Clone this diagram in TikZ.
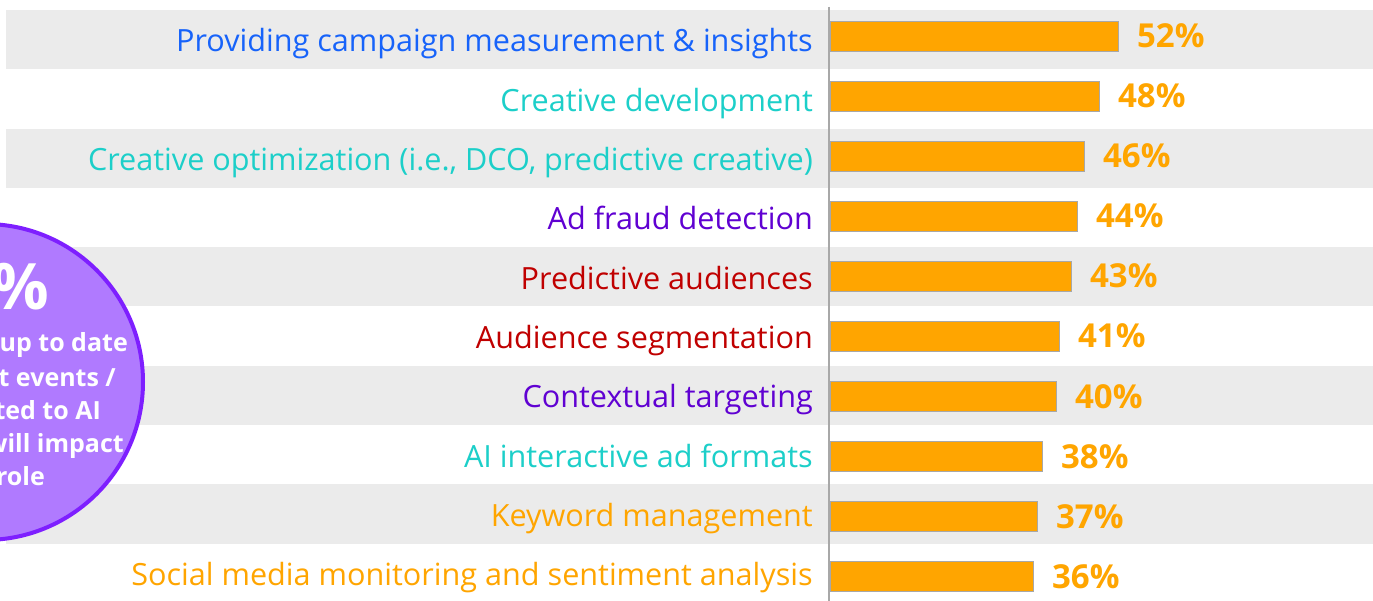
\documentclass[tikz,border=0pt]{standalone}
\usepackage{fontspec}
\setmainfont{Open Sans}
\definecolor{cblue}{HTML}{1763FA}
\definecolor{cteal}{HTML}{1CCFC9}
\definecolor{cpurple}{HTML}{6001D2}
\definecolor{cred}{HTML}{C00000}
\definecolor{corange}{HTML}{FFA500}
\definecolor{band}{HTML}{EBEBEB}
\definecolor{axisgray}{HTML}{A8A8A8}
\definecolor{circfill}{HTML}{B07AFF}
\definecolor{circline}{HTML}{7E1FFF}
\tikzset{
  bandbox/.style={fill=band, draw=none},
  barbox/.style={fill=corange, draw=axisgray, line width=0.9pt, inner sep=0pt, minimum height=30pt, anchor=west},
  lbltext/.style={inner sep=0pt, anchor=base east, font=\fontsize{30.6}{31}\selectfont},
  pcttext/.style={inner sep=0pt, anchor=base west, text=corange, font=\fontsize{33}{33}\selectfont\bfseries},
  circtext/.style={inner sep=0pt, anchor=base east, text=white, font=\fontsize{25}{25}\selectfont\bfseries}
}
\begin{document}
\begin{tikzpicture}[x=1pt,y=-1pt]
\useasboundingbox[fill=white] (0,0) rectangle (1373,601);
% bands
\foreach \k in {0,2,4,6,8}{
  \path[bandbox] (6,{10+59.3*\k}) rectangle (1373,{10+59.3*(\k+1)});
}
% axis
\coordinate (axtop) at (829,7);
\coordinate (axbot) at (829,601);
\draw[axisgray, line width=1.5pt] (axtop) -- (axbot);
% rows
\foreach \i/\t/\c/\p/\e in {
  1/{Providing campaign measurement \& insights}/cblue/52/1118,
  2/{Creative development}/cteal/48/1099,
  3/{Creative optimization (i.e., DCO, predictive creative)}/cteal/46/1084,
  4/{Ad fraud detection}/cpurple/44/1077,
  5/{Predictive audiences}/cred/43/1071,
  6/{Audience segmentation}/cred/41/1059,
  7/{Contextual targeting}/cpurple/40/1056,
  8/{AI interactive ad formats}/cteal/38/1042,
  9/{Keyword management}/corange/37/1037,
  10/{Social media monitoring and sentiment analysis}/corange/36/1033}{
  \node[lbltext, text=\c] (lbl\i) at (813,{52+59.3*(\i-1)}) {\t};
  \node[barbox, minimum width={(\e-830)*1pt}] (bar\i) at (830,{36+60*(\i-1)}) {};
  \node[pcttext] (pct\i) at ([xshift=18pt,yshift=-12pt]bar\i.east) {\p\%};
}
% circle
\node[circle, fill=circfill, draw=circline, line width=4pt, minimum size=316pt, inner sep=0pt] (circ) at (-15,382) {};
\node[inner sep=0pt, anchor=base east, text=white, font=\fontsize{64}{64}\selectfont\bfseries] (cpct) at (49,310) {\%};
\node[circtext] (c1) at (128,352) {up to date};
\node[circtext] (c2) at (116,386) {t events /};
\node[circtext] (c3) at (101,419) {ted to AI};
\node[circtext] (c4) at (124,452) {will impact};
\node[circtext] (c5) at (45,485) {role};
\end{tikzpicture}
\end{document}
